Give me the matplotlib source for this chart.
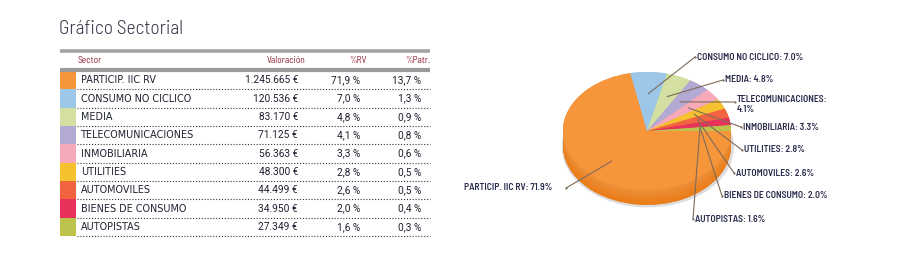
import matplotlib
matplotlib.use("Agg")
import matplotlib.pyplot as plt
from matplotlib import font_manager
import numpy as np
import colorsys

# ---------------- data ----------------
sectors = ["PARTICIP. IIC RV", "CONSUMO NO CICLICO", "MEDIA", "TELECOMUNICACIONES",
           "INMOBILIARIA", "UTILITIES", "AUTOMOVILES", "BIENES DE CONSUMO", "AUTOPISTAS"]
valoracion = [1245665, 120536, 83170, 71125, 56363, 48300, 44499, 34950, 27349]
pct_rv = [71.9, 7.0, 4.8, 4.1, 3.3, 2.8, 2.6, 2.0, 1.6]
pct_patr = [13.7, 1.3, 0.9, 0.8, 0.6, 0.5, 0.5, 0.4, 0.3]
colors = ["#f7953b", "#9cc7e8", "#d4e0a2", "#b4a9d2", "#f6aab9",
          "#f6c12f", "#f2643f", "#e8325c", "#bcc24c"]
headers = ["Sector", "Valoración", "%RV", "%Patr."]
title = "Gráfico Sectorial"

# ---------------- fonts ----------------
avail = {f.name for f in font_manager.fontManager.ttflist}


def pick(*names):
    for n in names:
        if n in avail:
            return n
    return "DejaVu Sans"


name_font = "DejaVu Sans"
num_font = pick("Roboto", "Barlow", "Liberation Sans")
lab_font = pick("Barlow Semi Condensed", "Barlow Condensed", "Liberation Sans Narrow")
title_font = pick("Barlow Semi Condensed", "Barlow", "Lato")

W, H = 901, 261
fig = plt.figure(figsize=(W / 100, H / 100), dpi=100)
fig.patch.set_facecolor("white")
ax0 = fig.add_axes([0, 0, 1, 1])
ax0.set_xlim(0, W)
ax0.set_ylim(H, 0)
ax0.axis("off")

# ---------------- title ----------------
ax0.text(59, 29, title, fontsize=14, family=title_font, fontweight=300,
         color="#34344a", va="center", ha="left")

# ---------------- table ----------------
x_left, x_right = 60, 430
ax0.plot([x_left, x_right], [50.5, 50.5], color="#a3a3a3", lw=2.6, solid_capstyle="butt")
ax0.plot([x_left, x_right], [69.5, 69.5], color="#9a9a9a", lw=3.0, solid_capstyle="butt")
hdr_color = "#8e1f33"
hy = 60.5
hfs = 6.8
ax0.text(78, hy, headers[0], fontsize=hfs, family=lab_font, color=hdr_color, va="center", ha="left")
ax0.text(305, hy, headers[1], fontsize=hfs, family=lab_font, color=hdr_color, va="center", ha="right")
ax0.text(367, hy, headers[2], fontsize=hfs, family=lab_font, color=hdr_color, va="center", ha="right")
ax0.text(430, hy, headers[3], fontsize=hfs, family=lab_font, color=hdr_color, va="center", ha="right")


def fmt_thousands(v):
    return f"{v:,}".replace(",", ".") + " €"


def fmt_pct(p):
    return f"{p:.1f}".replace(".", ",") + " %"


row_top = 71
row_h = 18.35
txt_color = "#1e2230"
tfs = 7.3
for i, s in enumerate(sectors):
    y0 = row_top + i * row_h
    yc = y0 + row_h / 2
    ax0.add_patch(plt.Rectangle((60, y0), 16, row_h, color=colors[i], lw=0))
    ax0.text(81, yc, s, fontsize=6.9, family=name_font, color=txt_color, va="center", ha="left")
    ax0.text(298, yc, fmt_thousands(valoracion[i]), fontsize=tfs, family=num_font,
             color=txt_color, va="center", ha="right")
    ax0.text(360, yc, fmt_pct(pct_rv[i]), fontsize=tfs, family=num_font,
             color=txt_color, va="center", ha="right")
    ax0.text(421, yc, fmt_pct(pct_patr[i]), fontsize=tfs, family=num_font,
             color=txt_color, va="center", ha="right")
    ax0.plot([77, x_right], [y0 + row_h, y0 + row_h], color="#333333", lw=0.8,
             linestyle=(0, (1, 1.6)))

# ---------------- 3D-like pie ----------------
cx, cy = 647, 131          # pixel centre of top face
rx, ry = 84, 59            # pixel radii
depth_px = 15
bw, bh = 240, 180
ax1 = fig.add_axes([(cx - bw / 2) / W, (H - (cy + bh / 2)) / H, bw / W, bh / H])
ax1.axis("off")


def shade(c, f):
    r, g, b = matplotlib.colors.to_rgb(c)
    h, l, s = colorsys.rgb_to_hls(r, g, b)
    return colorsys.hls_to_rgb(h, max(0, min(1, l * f)), s * 0.9)


depth = depth_px / ry
# light shadow outline
ax1.pie(pct_rv, colors=["#dcdcdc"] * len(pct_rv), startangle=0, counterclock=False,
        radius=1.025, center=(0.01, -depth - 0.015), frame=False, wedgeprops=dict(lw=0))
layers = np.linspace(depth, 0.0, 24)
for k, d in enumerate(layers):
    f = 0.84 + 0.12 * (k / (len(layers) - 1))
    ax1.pie(pct_rv, colors=[shade(c, f) for c in colors], startangle=0, counterclock=False,
            radius=1, center=(0, -d), frame=False, wedgeprops=dict(lw=0))
wedges, _ = ax1.pie(pct_rv, colors=colors, startangle=0, counterclock=False,
                    radius=1, center=(0, 0), frame=False, wedgeprops=dict(lw=0))

ax1.set_aspect("auto")
ax1.set_xlim(-(bw / 2) / rx, (bw / 2) / rx)
ax1.set_ylim(-(bh / 2) / ry, (bh / 2) / ry)

# ---------------- labels ----------------
lab_color = "#2b2d4e"
line_color = "#7d6b5a"
lfs = 6.9
# (dot x, dot y, ha) in pixels for each label
label_pos = [(566, 188, "right"), (695, 57, "left"), (723, 80, "left"), (735, 102, "left"),
             (741, 127, "left"), (742, 150, "left"), (734, 173, "left"), (722, 196, "left"),
             (693, 219, "left")]
for i, w in enumerate(wedges):
    mid = np.deg2rad((w.theta1 + w.theta2) / 2)
    r_anchor = 0.66 if i == 0 else 0.63
    ax_pt = (r_anchor * np.cos(mid), r_anchor * np.sin(mid))
    dx, dy, ha = label_pos[i]
    ax1.annotate("", xy=ax_pt, xycoords=ax1.transData, xytext=(dx, dy),
                 textcoords=ax0.transData, annotation_clip=False,
                 arrowprops=dict(arrowstyle="-", color=line_color, lw=0.8,
                                 shrinkA=0, shrinkB=0))
    ax0.plot([dx], [dy], marker="o", ms=1.6, color=line_color, mew=0, clip_on=False)
    name = sectors[i]
    if name == "TELECOMUNICACIONES":
        txt = f"{name}:\n{pct_rv[i]:.1f}%"
        ax0.text(dx + 2, dy + 2.5, txt, fontsize=lfs, family=lab_font, fontweight=600,
                 color=lab_color, va="center", ha="left", linespacing=1.05)
    elif ha == "right":
        ax0.text(dx - 14, dy, f"{name}: {pct_rv[i]:.1f}%", fontsize=lfs, family=lab_font,
                 fontweight=600, color=lab_color, va="center", ha="right")
    else:
        ax0.text(dx + 2, dy, f"{name}: {pct_rv[i]:.1f}%", fontsize=lfs, family=lab_font,
                 fontweight=600, color=lab_color, va="center", ha="left")

fig.savefig("out.png", dpi=100, facecolor="white")
